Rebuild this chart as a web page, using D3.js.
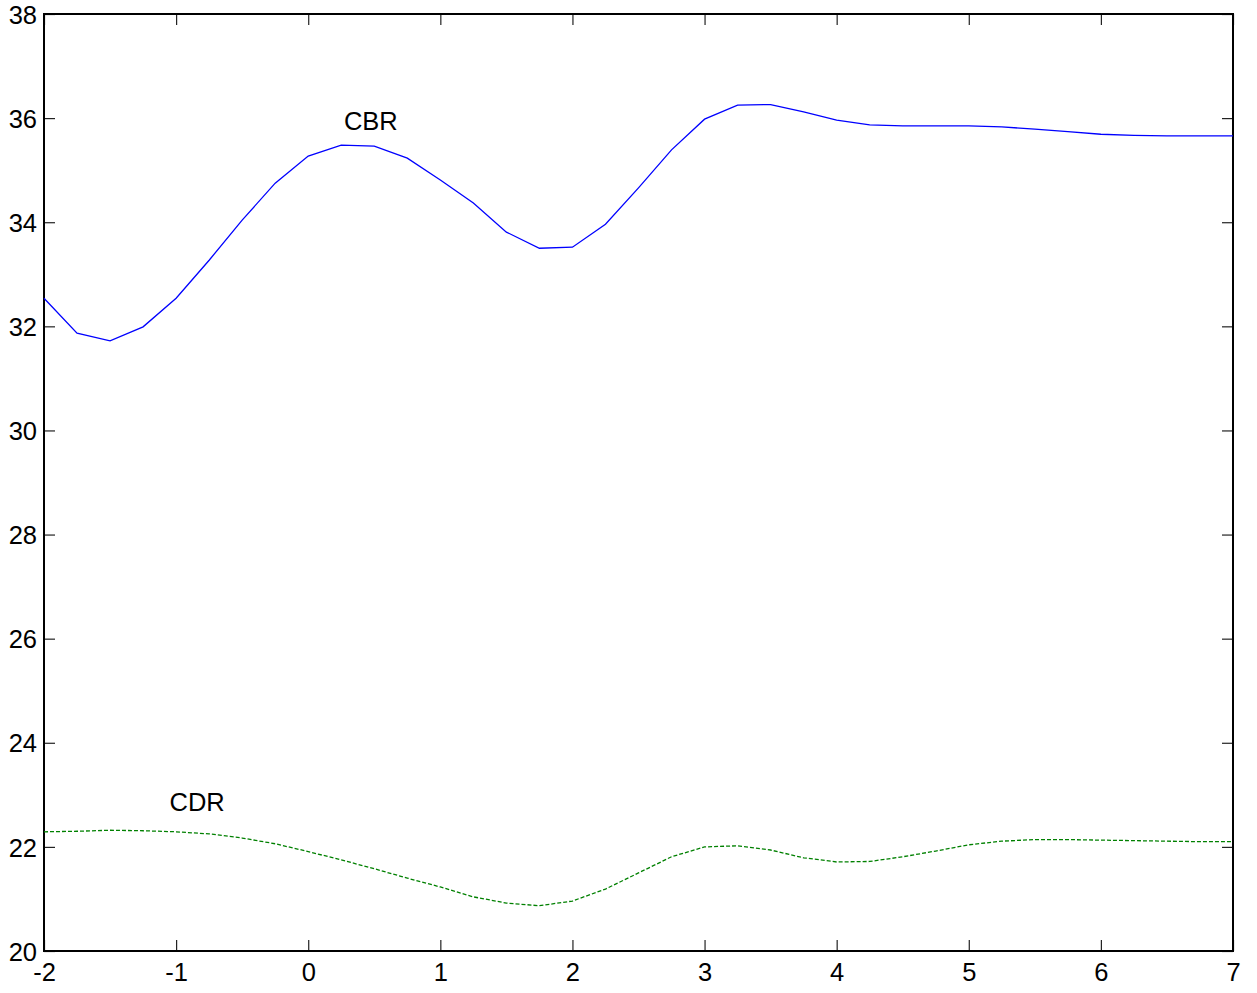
<!DOCTYPE html>
<html><head><meta charset="utf-8">
<script src="https://cdn.jsdelivr.net/npm/d3@7"></script>
<style>body{margin:0;background:#fff}</style>
</head><body>
<script>
const xValues = [-2,-1.75,-1.5,-1.25,-1,-0.75,-0.5,-0.25,0,0.25,0.5,0.75,1,1.25,1.5,1.75,2,2.25,2.5,2.75,3,3.25,3.5,3.75,4,4.25,4.5,4.75,5,5.25,5.5,5.75,6,6.25,6.5,6.75,7];
const cbr = [32.54,31.87,31.72,31.99,32.54,33.27,34.04,34.75,35.27,35.48,35.46,35.23,34.81,34.37,33.81,33.50,33.52,33.96,34.66,35.39,35.98,36.25,36.26,36.12,35.96,35.87,35.85,35.85,35.85,35.83,35.79,35.74,35.69,35.67,35.66,35.66,35.66];
const cdr = [22.29,22.30,22.32,22.31,22.29,22.25,22.17,22.06,21.91,21.75,21.58,21.40,21.23,21.04,20.92,20.87,20.96,21.19,21.50,21.81,22.00,22.02,21.94,21.79,21.71,21.72,21.81,21.92,22.04,22.11,22.14,22.14,22.13,22.12,22.11,22.10,22.10];
const xTicks = [-2,-1,0,1,2,3,4,5,6,7];
const xTickLabels = ["-2","-1","0","1","2","3","4","5","6","7"];
const yTicks = [20,22,24,26,28,30,32,34,36,38];
const yTickLabels = ["20","22","24","26","28","30","32","34","36","38"];
const labels = [{text:"CBR", x:0.27, y:35.78},{text:"CDR", x:-1.05, y:22.69}];

const W=1257,H=993;
const m={left:44,right:24,top:14,bottom:42};
const svg=d3.select("body").append("svg").attr("width",W).attr("height",H);
const x=d3.scaleLinear().domain([-2,7]).range([m.left,W-m.right]);
const y=d3.scaleLinear().domain([20,38]).range([H-m.bottom,m.top]);
const font="Liberation Sans, Arial, sans-serif";
const fs=25.5;

const tl=11;
const gB=svg.append("g").attr("transform",`translate(0,${y(20)})`).call(d3.axisBottom(x).tickValues(xTicks).tickFormat((d,i)=>xTickLabels[i]).tickSizeInner(-tl).tickSizeOuter(0).tickPadding(10));
const gT=svg.append("g").attr("transform",`translate(0,${y(38)})`).call(d3.axisTop(x).tickValues(xTicks).tickFormat("").tickSizeInner(-tl).tickSizeOuter(0));
const gL=svg.append("g").attr("transform",`translate(${x(-2)},0)`).call(d3.axisLeft(y).tickValues(yTicks).tickFormat((d,i)=>yTickLabels[i]).tickSizeInner(-tl).tickSizeOuter(0).tickPadding(7));
const gR=svg.append("g").attr("transform",`translate(${x(7)},0)`).call(d3.axisRight(y).tickValues(yTicks).tickFormat("").tickSizeInner(-tl).tickSizeOuter(0));
[gB,gT,gL,gR].forEach(g=>{g.select(".domain").remove();g.selectAll("line").attr("stroke","#222").attr("stroke-width",1.2);g.selectAll("text").attr("font-family",font).attr("font-size",fs).attr("fill","#000");});
gB.selectAll("text").attr("dy","0.8em");
gL.selectAll("text").attr("dy","0.36em");

svg.append("rect").attr("x",x(-2)).attr("y",y(38)).attr("width",x(7)-x(-2)).attr("height",y(20)-y(38)).attr("fill","none").attr("stroke","#000").attr("stroke-width",2);

const line=d3.line().x((d,i)=>x(xValues[i])).y(d=>y(d));
svg.append("path").datum(cbr).attr("d",line).attr("fill","none").attr("stroke","#0000ff").attr("stroke-width",1.3);
svg.append("path").datum(cdr).attr("d",line).attr("fill","none").attr("stroke","#008000").attr("stroke-width",1.3).attr("stroke-dasharray","4,2");

svg.selectAll(".lbl").data(labels).enter().append("text").attr("x",d=>x(d.x)).attr("y",d=>y(d.y)).text(d=>d.text).attr("font-family",font).attr("font-size",fs).attr("fill","#000");
</script>
</body></html>
